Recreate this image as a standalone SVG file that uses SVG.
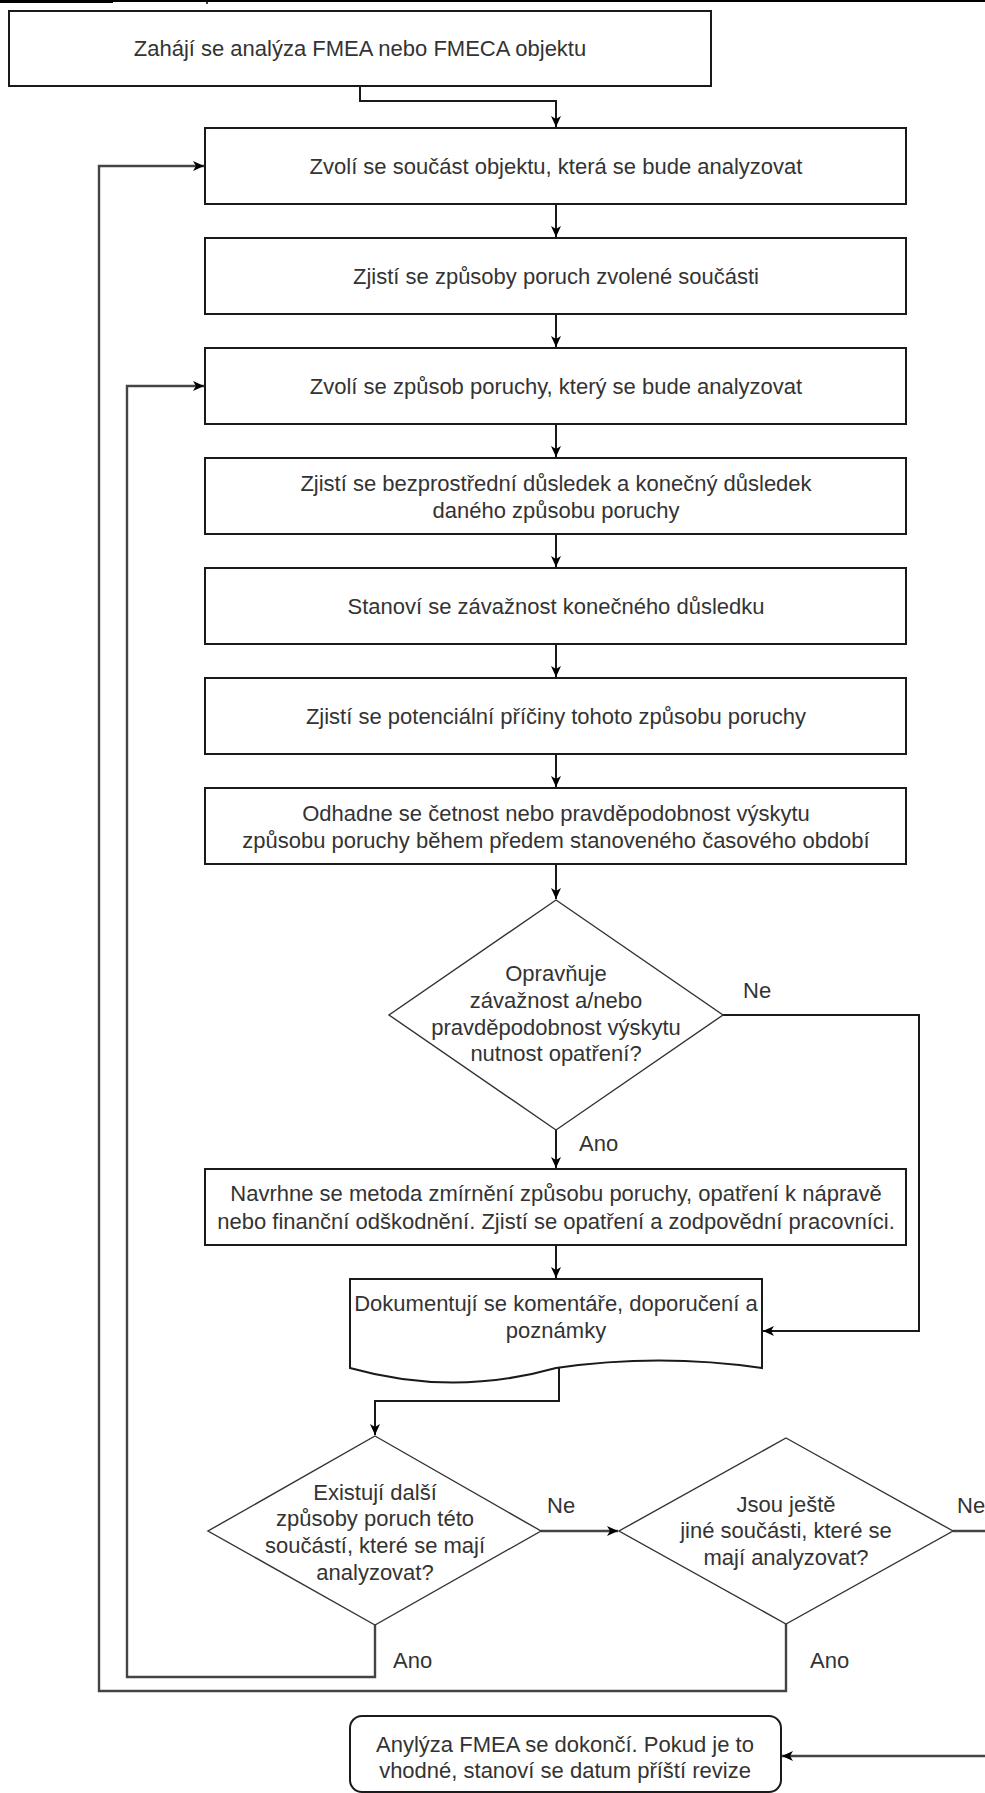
<svg xmlns="http://www.w3.org/2000/svg" width="985" height="1793" viewBox="0 0 985 1793">
<defs>
<marker id="arr" markerWidth="12" markerHeight="10" refX="11" refY="5" orient="auto" markerUnits="userSpaceOnUse">
<path d="M0,0 L11,5 L0,10 L3,5 Z" fill="#000"/>
</marker>
<style>
.box{fill:#fff;stroke:#1a1a1a;stroke-width:2}
.dia{fill:#fff;stroke:#333;stroke-width:1.4}
.t{font-family:"Liberation Sans",Arial,sans-serif;font-size:22px;fill:#333;text-anchor:middle}
.lbl{font-family:"Liberation Sans",Arial,sans-serif;font-size:22px;fill:#333}
.c{fill:none;stroke:#1a1a1a;stroke-width:2}
.cl{fill:none;stroke:#444;stroke-width:2.4}
</style>
</defs>
<rect width="985" height="1793" fill="#fff"/>
<g id="topstrip">
<rect x="0" y="0" width="113" height="3" fill="#000"/>
<line x1="113" y1="1" x2="985" y2="1" stroke="#000" stroke-width="2"/>
<line x1="207" y1="0" x2="207" y2="4" stroke="#000" stroke-width="1.5"/>
</g>
<g id="connectors">
<path class="c" d="M360,86 V101 H556 V127" marker-end="url(#arr)"/>
<path class="c" d="M556,204 V237" marker-end="url(#arr)"/>
<path class="c" d="M556,314 V347" marker-end="url(#arr)"/>
<path class="c" d="M556,424 V457" marker-end="url(#arr)"/>
<path class="c" d="M556,534 V567" marker-end="url(#arr)"/>
<path class="c" d="M556,644 V677" marker-end="url(#arr)"/>
<path class="c" d="M556,754 V787" marker-end="url(#arr)"/>
<path class="c" d="M556,864 V899" marker-end="url(#arr)"/>
<path class="c" d="M556,1130 V1168" marker-end="url(#arr)"/>
<path class="c" d="M723,1015 H919 V1331 H763" marker-end="url(#arr)"/>
<path class="c" d="M556,1245 V1278" marker-end="url(#arr)"/>
<path class="c" d="M559,1368 V1401 H375 V1435" marker-end="url(#arr)"/>
<path class="cl" d="M541,1531 H618" marker-end="url(#arr)"/>
<path class="cl" d="M375,1625 V1677 H127 V386 H204" marker-end="url(#arr)"/>
<path class="cl" d="M786,1624 V1691 H99 V166 H204" marker-end="url(#arr)"/>
<path class="cl" d="M953,1531 H990"/>
<path class="cl" d="M990,1756 H782" marker-end="url(#arr)"/>
<text class="lbl" x="579" y="1151">Ano</text>
<text class="lbl" x="743" y="998">Ne</text>
<text class="lbl" x="547" y="1513">Ne</text>
<text class="lbl" x="393" y="1668">Ano</text>
<text class="lbl" x="810" y="1668">Ano</text>
<text class="lbl" x="957" y="1513">Ne</text>
</g>
<g id="start">
<rect class="box" x="9" y="11" width="702" height="75"/>
<text class="t" x="360" y="56">Zahájí se analýza FMEA nebo FMECA objektu</text>
</g>
<g id="n1">
<rect class="box" x="205" y="128" width="701" height="76"/>
<text class="t" x="556" y="174">Zvolí se součást objektu, která se bude analyzovat</text>
</g>
<g id="n2">
<rect class="box" x="205" y="238" width="701" height="76"/>
<text class="t" x="556" y="284">Zjistí se způsoby poruch zvolené součásti</text>
</g>
<g id="n3">
<rect class="box" x="205" y="348" width="701" height="76"/>
<text class="t" x="556" y="394">Zvolí se způsob poruchy, který se bude analyzovat</text>
</g>
<g id="n4">
<rect class="box" x="205" y="458" width="701" height="76"/>
<text class="t" x="556" y="491">Zjistí se bezprostřední důsledek a konečný důsledek</text>
<text class="t" x="556" y="518">daného způsobu poruchy</text>
</g>
<g id="n5">
<rect class="box" x="205" y="568" width="701" height="76"/>
<text class="t" x="556" y="614">Stanoví se závažnost konečného důsledku</text>
</g>
<g id="n6">
<rect class="box" x="205" y="678" width="701" height="76"/>
<text class="t" x="556" y="724">Zjistí se potenciální příčiny tohoto způsobu poruchy</text>
</g>
<g id="n7">
<rect class="box" x="205" y="788" width="701" height="76"/>
<text class="t" x="556" y="821">Odhadne se četnost nebo pravděpodobnost výskytu</text>
<text class="t" x="556" y="848">způsobu poruchy během předem stanoveného časového období</text>
</g>
<g id="d1">
<polygon class="dia" points="556,900 723,1015 556,1130 389,1015"/>
<text class="t" x="556" y="981">Opravňuje</text>
<text class="t" x="556" y="1008">závažnost a/nebo</text>
<text class="t" x="556" y="1035">pravděpodobnost výskytu</text>
<text class="t" x="556" y="1061">nutnost opatření?</text>
</g>
<g id="n8">
<rect class="box" x="205" y="1169" width="701" height="76"/>
<text class="t" x="556" y="1201">Navrhne se metoda zmírnění způsobu poruchy, opatření k nápravě</text>
<text class="t" x="556" y="1229">nebo finanční odškodnění. Zjistí se opatření a zodpovědní pracovníci.</text>
</g>
<g id="doc">
<path class="box" d="M350,1279 H762 V1368 Q659,1353 556,1368 Q453,1397 350,1368 Z"/>
<text class="t" x="556" y="1311">Dokumentují se komentáře, doporučení a</text>
<text class="t" x="556" y="1338">poznámky</text>
</g>
<g id="d2">
<polygon class="dia" points="375,1436 541,1531 375,1625 208,1531"/>
<text class="t" x="375" y="1500">Existují další</text>
<text class="t" x="375" y="1526">způsoby poruch této</text>
<text class="t" x="375" y="1553">součástí, které se mají</text>
<text class="t" x="375" y="1580">analyzovat?</text>
</g>
<g id="d3">
<polygon class="dia" points="786,1438 953,1531 786,1624 619,1531"/>
<text class="t" x="786" y="1512">Jsou ještě</text>
<text class="t" x="786" y="1538">jiné součásti, které se</text>
<text class="t" x="786" y="1565">mají analyzovat?</text>
</g>
<g id="end">
<rect class="box" x="350" y="1716" width="431" height="76" rx="12" ry="12"/>
<text class="t" x="565" y="1752">Anylýza FMEA se dokončí. Pokud je to</text>
<text class="t" x="565" y="1778">vhodné, stanoví se datum příští revize</text>
</g>
</svg>
